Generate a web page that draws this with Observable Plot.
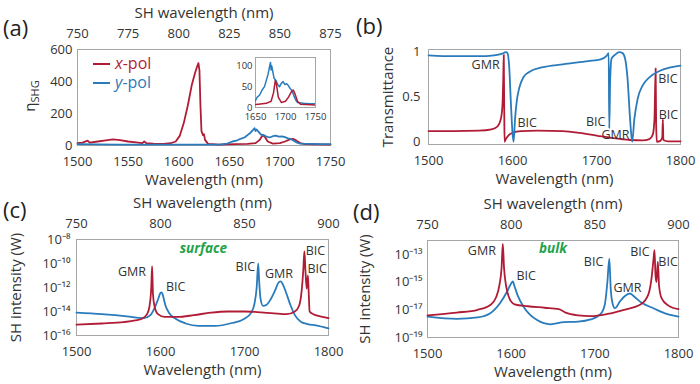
<!DOCTYPE html>
<html><head><meta charset="utf-8">
<script src="https://cdn.jsdelivr.net/npm/d3@7"></script>
<script src="https://cdn.jsdelivr.net/npm/@observablehq/plot@0.6"></script>
<style>
body{margin:0;background:#fff;}
#wrap{position:relative;width:700px;height:384px;font-family:"Open Sans",sans-serif;overflow:hidden;}
#wrap svg{position:absolute;overflow:visible;}
.tag{position:absolute;font-size:22px;color:#222;line-height:1;}
</style></head><body><div id="wrap"></div>
<script>
// ---------- Panel (a): measured SHG efficiency ----------
const aRedWl  = [1500,1505,1510,1512,1520,1528,1535,1542,1550,1558,1564,1566,1568,1575,1585,1592,1597,1601,1605,1609,1613,1616,1618,1619.5,1620.5,1621.5,1622.5,1624,1625,1626,1629,1640,1655,1668,1676,1680,1683,1685,1688,1693,1700,1705,1710,1713,1716,1720,1725,1735,1750];
const aRedEta = [15,18,30,18,25,32,38,34,25,20,15,25,15,12,10,14,25,60,140,250,380,450,490,515,470,250,90,65,70,35,10,6,8,10,15,35,65,55,25,12,15,25,38,42,32,15,8,7,6];
const aBlueWl  = [1500,1520,1540,1560,1580,1600,1620,1640,1648,1653,1657,1661,1665,1668,1671,1673,1675,1676,1677,1679,1681,1684,1687,1690,1693,1696,1699,1702,1705,1708,1711,1714,1717,1720,1730,1740,1750];
const aBlueEta = [8,7,6,6,5,5,5,6,12,25,30,42,50,65,80,95,108,90,100,85,70,65,55,50,58,62,55,57,52,45,40,28,18,12,10,9,9];
const aTicksBottom = [1500,1550,1600,1650,1700,1750];
const aTicksY = [0,200,400,600];
const insetTicksX = [1650,1700,1750];
const insetTicksY = [0,50,100];

// ---------- Panel (b): transmittance ----------
const bRedWl = [1500,1530,1560,1575,1582,1586,1588,1589,1589.6,1590.2,1590.6,1592,1595,1600,1610,1630,1660,1680,1700,1720,1740,1755,1763,1767,1769,1770.4,1771,1771.8,1776,1778.3,1779,1779.6,1785,1800];
const bRedT  = [0.12,0.12,0.125,0.14,0.17,0.25,0.4,0.7,0.97,0.3,0.0,0.03,0.07,0.1,0.12,0.125,0.12,0.1,0.07,0.04,0.02,0.015,0.03,0.08,0.25,0.82,0.2,0.0,0.01,0.05,0.25,0.02,0.005,0.005];
const bBlueWl = [1500,1530,1560,1578,1588,1592,1594,1596,1598,1600,1601.3,1603,1605,1608,1613,1620,1635,1660,1690,1705,1712,1714.5,1715.2,1716.3,1718,1722,1727,1731,1734,1737,1740,1742.5,1745,1749,1755,1763,1775,1788,1800];
const bBlueT  = [0.965,0.955,0.955,0.965,0.985,1.0,0.99,0.85,0.45,0.1,0.0,0.25,0.45,0.6,0.72,0.78,0.83,0.865,0.9,0.92,0.96,0.99,0.15,0.7,0.93,0.97,1.0,0.99,0.93,0.7,0.25,0.0,0.25,0.48,0.63,0.72,0.79,0.83,0.85];
const bLabText = ["GMR","BIC","BIC","GMR","BIC","BIC"];
const bLabX = [1568,1617.5,1699,1722.6,1785,1785.7];
const bLabY = [0.855,0.21,0.22,0.074,0.706,0.297];
const bTicksY = [0,0.5,1];

// ---------- Panel (c): surface SH intensity ----------
const cRedWl = [1500,1530,1556,1570,1578,1584,1587,1589,1590,1591,1593,1597,1605,1620,1640,1660,1680,1700,1715,1735,1750,1760,1765,1768,1770,1771.3,1772.5,1774,1775.5,1776.5,1777.5,1782,1790,1800];
const cRedI  = [8e-16,1e-15,1.3e-15,1.8e-15,2.5e-15,6e-15,3e-14,1e-12,6e-11,3e-13,2.5e-14,6e-15,3.5e-15,3.5e-15,5e-15,8e-15,1e-14,1e-14,9e-15,7e-15,6e-15,1e-14,3e-14,5e-13,3e-11,1e-9,3e-11,8e-13,1e-11,3e-13,1e-14,6e-15,4e-15,2.8e-15];
const cBlueWl = [1500,1530,1560,1580,1588,1593,1597,1600,1601.5,1603,1606,1610,1618,1630,1645,1665,1685,1700,1708,1712,1714.5,1716.3,1717.5,1719,1722,1726,1731,1736,1741,1743,1746,1750,1755,1760,1767,1775,1785,1800];
const cBlueI  = [8e-15,6e-15,4e-15,2.8e-15,5e-15,2e-14,1e-13,3.5e-13,4e-13,2e-13,3e-14,8e-15,2.5e-15,1e-15,6.3e-16,6.3e-16,1.1e-15,2.5e-15,8e-15,5e-14,1e-12,1e-10,3e-12,1.3e-13,3e-14,3.5e-14,1e-13,5e-13,2.8e-12,3.2e-12,1.6e-12,3e-13,3e-14,5e-15,1.4e-15,9e-16,7e-16,4e-16];
const cLabText = ["GMR","BIC","BIC","GMR","BIC","BIC"];
const cLabX = [1566,1618,1701,1741,1784.5,1786.5];
const cLabY = [2.1e-11,1.1e-12,5e-11,1.4e-11,1.2e-9,3.6e-11];
const cTicksY = [1e-16,1e-14,1e-12,1e-10,1e-8];

// ---------- Panel (d): bulk SH intensity ----------
const dRedWl = [1500,1535,1560,1575,1582,1586,1588.5,1590,1591.5,1594,1598,1604,1620,1640,1657,1665,1680,1695,1715,1735,1755,1764,1768,1770.2,1771.3,1772.5,1773.7,1775.3,1776.8,1780,1788,1800];
const dRedI  = [4e-18,6.3e-18,1e-17,2.2e-17,8e-17,6.3e-16,1e-14,5.6e-13,1e-14,5e-16,6.3e-17,2.5e-17,1.8e-17,1.4e-17,1.1e-17,6.3e-18,4e-18,3.5e-18,5e-18,1e-17,2.5e-17,1.3e-16,2.5e-15,5e-14,2e-13,3e-15,1e-15,3e-14,5e-16,6.3e-17,2e-17,1.1e-17];
const dBlueWl = [1500,1535,1560,1575,1587,1595,1600,1602,1604,1608,1615,1631,1647,1663,1680,1695,1707,1712,1715,1717.3,1719,1721,1724,1730,1736,1742,1748,1756,1770,1786,1800];
const dBlueI  = [3.2e-18,2.2e-18,2.8e-18,5.6e-18,3.2e-17,2e-16,8e-16,1.1e-15,5e-16,1e-16,1.6e-17,1.8e-18,9e-19,1.3e-18,1.4e-18,2e-18,5e-18,2.5e-17,1e-15,5e-14,3.2e-16,3.2e-17,1.3e-17,4e-17,1e-16,1.5e-16,8e-17,3.2e-17,1.3e-17,5e-18,3.2e-18];
const dLabText = ["GMR","BIC","BIC","GMR","BIC","BIC"];
const dLabX = [1565,1618,1698.5,1739,1754,1787.5];
const dLabY = [1.85e-13,2.7e-15,2.6e-14,3.8e-16,1.6e-13,2.6e-14];
const dTicksY = [1e-19,1e-17,1e-15,1e-13];

const wlTicks = [1500,1600,1700,1800];

// ---------- helpers ----------
const RED = "#b01c36", BLUE = "#2a7bbb", GREEN = "#1fa34a", INK = "#333";
const SUP = {"-":"\u207B","0":"\u2070","1":"\u00B9","2":"\u00B2","3":"\u00B3","4":"\u2074","5":"\u2075","6":"\u2076","7":"\u2077","8":"\u2078","9":"\u2079"};
const logFmt = d => "10" + String(Math.round(Math.log10(d))).split("").map(c => SUP[c]).join("");
const zip = (xs, ys) => xs.map((x, i) => ({x, y: ys[i]}));
const labels = (t, xs, ys) => t.map((s, i) => ({s, x: xs[i], y: ys[i]}));
const wrap = document.getElementById("wrap");

function place(el, left, top) {
  el.style.position = "absolute";
  el.style.left = left + "px";
  el.style.top = top + "px";
  wrap.appendChild(el);
  return el;
}
function tag(txt, left, top) {
  const d = document.createElement("div");
  d.className = "tag"; d.textContent = txt;
  d.style.left = left + "px"; d.style.top = top + "px";
  wrap.appendChild(d);
}
const baseStyle = {fontFamily: "Open Sans", fontSize: "13px", color: INK, background: "transparent", overflow: "visible"};

function panel(o) {
  const marks = [
    Plot.frame({stroke: "#a6a6a6"}),
    ...o.series.map(s => Plot.line(s.data, {x: "x", y: "y", stroke: s.color, strokeWidth: 1.8, curve: o.curve || "linear"})),
    Plot.axisX({anchor: "bottom", ticks: o.xTicks, tickFormat: d => String(d), tickSize: 0, tickPadding: 11, label: null}),
    Plot.axisY({anchor: "left", ticks: o.yTicks, tickFormat: o.yFmt, tickSize: 0, tickPadding: o.yPad || 5, label: null}),
    Plot.text(["Wavelength (nm)"], {text: d => d, frameAnchor: "bottom", dy: 39, fontSize: 15, fill: INK})
  ];
  if (o.top) {
    marks.push(Plot.axisX({anchor: "top", ticks: o.xTicks, tickFormat: d => String(d / 2), tickSize: 0, tickPadding: 12, label: null}));
    marks.push(Plot.text(["SH wavelength (nm)"], {text: d => d, frameAnchor: "top", dy: -42, fontSize: 15, fill: INK}));
  }
  if (o.yLabel) marks.push(Plot.text([o.yLabel], {text: d => d, frameAnchor: "left", textAnchor: "middle", dx: o.yLabelDx, rotate: -90, fontSize: 15, fill: INK}));
  if (o.ann) marks.push(Plot.text(o.ann, {x: "x", y: "y", text: "s", fontSize: 12.5, fill: INK}));
  if (o.note) marks.push(Plot.text([o.note], {x: () => o.note.x, y: () => o.note.y, text: () => o.note.s, fill: GREEN, fontWeight: "bold", fontStyle: "italic", fontSize: 13.5}));
  const svg = Plot.plot({
    width: 350, height: 192,
    marginLeft: o.ml, marginRight: o.mr, marginTop: o.mt, marginBottom: o.mb,
    style: baseStyle,
    x: {domain: o.xDomain},
    y: {type: o.yType || "linear", domain: o.yDomain},
    marks
  });
  return place(svg, o.left, o.top0);
}

// ---------- (a) ----------
const svgA = panel({
  left: 0, top0: 0, ml: 77, mr: 20, mt: 49, mb: 47,
  xDomain: [1500, 1750], yDomain: [0, 600],
  xTicks: aTicksBottom, yTicks: aTicksY, yFmt: d => String(d), top: true,
  series: [{data: zip(aRedWl, aRedEta), color: RED}, {data: zip(aBlueWl, aBlueEta), color: BLUE}]
});
{
  const s = d3.select(svgA);
  const t = s.append("text").attr("transform", "translate(35,96) rotate(-90)")
    .attr("text-anchor", "middle").attr("fill", INK).attr("font-size", 15);
  t.append("tspan").text("\u03B7");
  t.append("tspan").text("SHG").attr("font-size", 11).attr("dy", 4);
  const legend = [["x", RED, 64], ["y", BLUE, 83]];
  for (const [v, c, y] of legend) {
    s.append("line").attr("x1", 93).attr("x2", 110).attr("y1", y).attr("y2", y).attr("stroke", c).attr("stroke-width", 2);
    const tt = s.append("text").attr("x", 115).attr("y", y + 5).attr("fill", c).attr("font-size", 16).attr("text-anchor", "start");
    tt.append("tspan").text(v).attr("font-style", "italic");
    tt.append("tspan").text("-pol");
  }
}
// inset
place(Plot.plot({
  width: 105, height: 75, marginLeft: 30, marginRight: 15, marginTop: 7, marginBottom: 18,
  style: {...baseStyle, fontSize: "9.5px"},
  x: {domain: [1650, 1750]}, y: {domain: [0, 120]},
  marks: [
    Plot.frame({fill: "white", stroke: "#a6a6a6"}),
    Plot.line(zip(aBlueWl, aBlueEta), {x: "x", y: "y", stroke: BLUE, strokeWidth: 1.5, clip: true}),
    Plot.line(zip(aRedWl, aRedEta), {x: "x", y: "y", stroke: RED, strokeWidth: 1.5, clip: true}),
    Plot.axisX({anchor: "bottom", ticks: insetTicksX, tickFormat: d => String(d), tickSize: 0, tickPadding: 6, label: null}),
    Plot.axisY({anchor: "left", ticks: insetTicksY, tickFormat: d => String(d), tickSize: 0, tickPadding: 3, label: null})
  ]
}), 225, 50);

// ---------- (b) ----------
panel({
  left: 350, top0: 0, ml: 78, mr: 20, mt: 49, mb: 48,
  xDomain: [1500, 1800], yDomain: [-0.03, 1.03],
  xTicks: wlTicks, yTicks: bTicksY, yFmt: d => String(d), yPad: 8, curve: "monotone-x",
  yLabel: "Transmittance", yLabelDx: -40,
  series: [{data: zip(bRedWl, bRedT), color: RED}, {data: zip(bBlueWl, bBlueT), color: BLUE}],
  ann: labels(bLabText, bLabX, bLabY)
});

// ---------- (c) ----------
panel({
  left: 0, top0: 192, ml: 76, mr: 22, mt: 47, mb: 49,
  xDomain: [1500, 1800], yDomain: [1e-16, 1e-8], yType: "log",
  xTicks: wlTicks, yTicks: cTicksY, yFmt: logFmt, yPad: 6, top: true, curve: "monotone-x",
  yLabel: "SH intensity (W)", yLabelDx: -60,
  series: [{data: zip(cBlueWl, cBlueI), color: BLUE}, {data: zip(cRedWl, cRedI), color: RED}],
  ann: labels(cLabText, cLabX, cLabY),
  note: {s: "surface", x: 1651, y: 1.8e-9}
});

// ---------- (d) ----------
panel({
  left: 350, top0: 192, ml: 77, mr: 22, mt: 48, mb: 47,
  xDomain: [1500, 1800], yDomain: [1e-19, 1e-12], yType: "log",
  xTicks: wlTicks, yTicks: dTicksY, yFmt: logFmt, yPad: 5, top: true, curve: "monotone-x",
  yLabel: "SH intensity (W)", yLabelDx: -62,
  series: [{data: zip(dBlueWl, dBlueI), color: BLUE}, {data: zip(dRedWl, dRedI), color: RED}],
  ann: labels(dLabText, dLabX, dLabY),
  note: {s: "bulk", x: 1650, y: 2.6e-13}
});

tag("(a)", 3, 16);
tag("(b)", 356, 14);
tag("(c)", 3, 198);
tag("(d)", 353, 200);
</script></body></html>
